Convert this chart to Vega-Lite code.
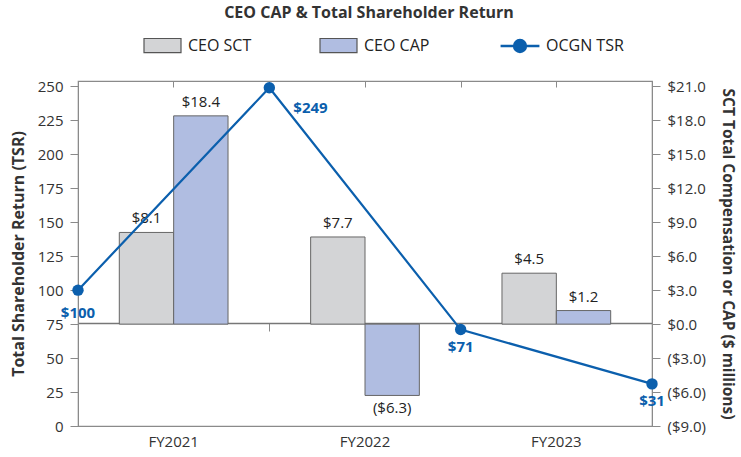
{
  "$schema": "https://vega.github.io/schema/vega-lite/v6.json",
  "width": 574,
  "height": 345,
  "autosize": "none",
  "padding": {"left": 78, "top": 81, "right": 89, "bottom": 31},
  "title": {"text": "CEO CAP & Total Shareholder Return", "fontSize": 16, "fontWeight": "bold", "color": "#333", "anchor": "middle", "offset": 5, "dx": 4, "font": "Open Sans"},
  "config": {
    "font": "Open Sans",
    "view": {"stroke": "#8a8a8a", "strokeWidth": 1.2},
    "axis": {"grid": false, "labelFont": "Open Sans", "titleFont": "Open Sans", "domainColor": "#8a8a8a", "tickColor": "#8a8a8a", "labelColor": "#333", "titleColor": "#333"}
  },
  "layer": [
    {
      "data": {"values": [
        {"year": "FY2021", "series": "CEO SCT", "value": 8.1},
        {"year": "FY2021", "series": "CEO CAP", "value": 18.4},
        {"year": "FY2022", "series": "CEO SCT", "value": 7.7},
        {"year": "FY2022", "series": "CEO CAP", "value": -6.3},
        {"year": "FY2023", "series": "CEO SCT", "value": 4.5},
        {"year": "FY2023", "series": "CEO CAP", "value": 1.2}
      ]},
      "encoding": {
        "xOffset": {"field": "series", "type": "nominal", "scale": {"domain": ["CEO SCT", "CEO CAP"], "paddingInner": 0, "paddingOuter": 0.76}},
        "y": {"field": "value", "type": "quantitative", "scale": {"domain": [-9, 21.48], "nice": false, "zero": true},
          "axis": {"orient": "right", "title": "SCT Total Compensation or CAP ($ millions)", "values": [-9, -6, -3, 0, 3, 6, 9, 12, 15, 18, 21], "format": "($.1f", "labelFontSize": 15, "titleFontSize": 15.5, "titleFontWeight": "bold", "tickSize": 8, "labelPadding": 7, "titlePadding": 14}}
      },
      "layer": [
        {
          "mark": {"type": "bar", "stroke": "#666", "strokeWidth": 1},
          "encoding": {
            "x": {"field": "year", "type": "nominal", "scale": {"paddingInner": 0, "paddingOuter": 0}, "axis": {"title": null, "labelAngle": 0, "labelFontSize": 15, "ticks": false, "labelPadding": 8, "domain": false}},
            "color": {"field": "series", "type": "nominal",
              "scale": {"domain": ["CEO SCT", "CEO CAP"], "range": ["#d3d4d6", "#b0bde1"]},
              "legend": {"title": null, "orient": "none", "legendX": 65, "legendY": -55, "direction": "horizontal", "columns": 2, "columnPadding": 65, "labelOffset": 6, "labelFontSize": 16, "labelColor": "#222", "labelFont": "Open Sans", "symbolSize": 1369, "padding": 0,
                "symbolType": "M-1,-0.38H1V0.38H-1Z", "symbolStrokeColor": "#555", "symbolStrokeWidth": 1.2, "symbolOpacity": 1}
            }
          }
        },
        {
          "transform": [{"filter": "datum.value >= 0"}],
          "mark": {"type": "text", "baseline": "bottom", "dy": -6, "fontSize": 15, "color": "#222"},
          "encoding": {
            "x": {"field": "year", "type": "nominal", "scale": {"paddingInner": 0, "paddingOuter": 0}, "axis": {"orient": "top", "title": null, "labels": false, "domain": false, "tickSize": -6}},
            "text": {"field": "value", "type": "quantitative", "format": "($.1f"}
          }
        },
        {
          "transform": [{"filter": "datum.value < 0"}],
          "mark": {"type": "text", "baseline": "top", "dy": 6, "fontSize": 15, "color": "#222"},
          "encoding": {
            "x": {"field": "year", "type": "nominal", "scale": {"paddingInner": 0, "paddingOuter": 0}, "axis": null},
            "text": {"field": "value", "type": "quantitative", "format": "($.1f"}
          }
        }
      ],
      "resolve": {"axis": {"x": "independent"}}
    },
    {
      "data": {"values": [
        {"period": "Start", "tsr": 100},
        {"period": "FY2021", "tsr": 249},
        {"period": "FY2022", "tsr": 71},
        {"period": "FY2023", "tsr": 31}
      ]},
      "encoding": {
        "y": {"field": "tsr", "type": "quantitative", "scale": {"domain": [0, 254], "nice": false},
          "axis": {"orient": "left", "title": "Total Shareholder Return (TSR)", "values": [0, 25, 50, 75, 100, 125, 150, 175, 200, 225, 250], "labelFontSize": 15, "titleFontSize": 16, "titleFontWeight": "bold", "tickSize": 8, "labelPadding": 7, "titlePadding": 11}}
      },
      "layer": [
        {
          "mark": {"type": "line", "color": "#0b5fad", "strokeWidth": 2.2},
          "encoding": {
            "x": {"field": "period", "type": "ordinal", "sort": null, "scale": {"type": "point", "padding": 0}, "axis": {"orient": "bottom", "offset": -103, "title": null, "labels": false, "tickSize": 8, "domainColor": "#777", "domainWidth": 1.5}}
          }
        },
        {
          "mark": {"type": "circle", "size": 130, "opacity": 1, "fillOpacity": 1},
          "encoding": {
            "x": {"field": "period", "type": "ordinal", "sort": null, "scale": {"type": "point", "padding": 0}, "axis": {"orient": "top", "title": null, "labels": false, "domain": false, "tickSize": -6}},
            "fill": {"datum": "OCGN TSR", "type": "nominal", "scale": {"domain": ["OCGN TSR"], "range": ["#0b5fad"]},
              "legend": {"title": null, "orient": "none", "legendX": 422, "legendY": -55, "direction": "horizontal", "labelOffset": 6, "labelFontSize": 16, "labelColor": "#222", "labelFont": "Open Sans", "symbolSize": 1369, "padding": 0,
                "symbolType": "M-1.05,0H1.05M-0.32,0A0.32,0.32 0 1,1 0.32,0A0.32,0.32 0 1,1 -0.32,0Z", "symbolStrokeColor": "#0b5fad", "symbolStrokeWidth": 2.5, "symbolFillColor": "#0b5fad", "symbolOpacity": 1}
            }
          }
        },
        {
          "transform": [{"filter": "datum.period === 'FY2021'"}],
          "mark": {"type": "text", "align": "left", "baseline": "middle", "dx": 24, "dy": 20, "fontSize": 15, "fontWeight": "bold", "color": "#0b5fad"},
          "encoding": {
            "x": {"field": "period", "type": "ordinal", "sort": null, "scale": {"type": "point", "padding": 0}, "axis": null},
            "text": {"field": "tsr", "type": "quantitative", "format": "$.0f"}
          }
        },
        {
          "transform": [{"filter": "datum.period === 'Start'"}],
          "mark": {"type": "text", "align": "center", "baseline": "middle", "dy": 23, "fontSize": 15, "fontWeight": "bold", "color": "#0b5fad"},
          "encoding": {
            "x": {"field": "period", "type": "ordinal", "sort": null, "scale": {"type": "point", "padding": 0}, "axis": null},
            "text": {"field": "tsr", "type": "quantitative", "format": "$.0f"}
          }
        },
        {
          "transform": [{"filter": "datum.period === 'FY2022' || datum.period === 'FY2023'"}],
          "mark": {"type": "text", "align": "center", "baseline": "middle", "dy": 17, "fontSize": 15, "fontWeight": "bold", "color": "#0b5fad"},
          "encoding": {
            "x": {"field": "period", "type": "ordinal", "sort": null, "scale": {"type": "point", "padding": 0}, "axis": null},
            "text": {"field": "tsr", "type": "quantitative", "format": "$.0f"}
          }
        }
      ],
      "resolve": {"axis": {"x": "independent"}}
    }
  ],
  "resolve": {"scale": {"x": "independent", "y": "independent", "xOffset": "independent"}}
}
